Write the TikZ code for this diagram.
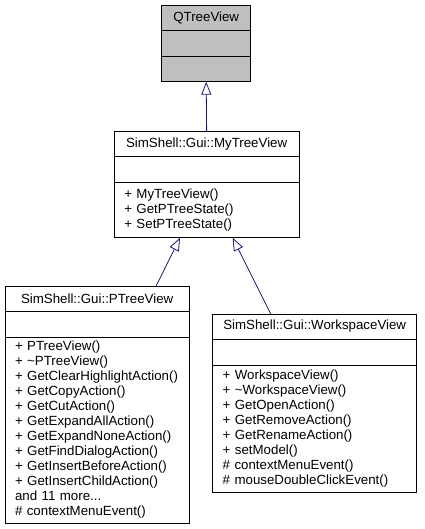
\documentclass[tikz,border=0pt]{standalone}
\usepackage{fontspec}
\setmainfont{Liberation Sans}
\usetikzlibrary{positioning,arrows.meta}
\definecolor{arrcol}{RGB}{25,25,112}
\definecolor{basecol}{RGB}{191,191,191}
\tikzset{every picture/.style={x=1pt,y=-1pt}}
\tikzset{cell/.style={draw,rectangle,inner sep=0pt,outer sep=0pt,line width=0.8pt,font=\fontsize{13.3}{15}\selectfont}}
\tikzset{classtitle/.style={cell,minimum height=25pt,anchor=north}}
\tikzset{classblank/.style={cell,minimum height=26pt}}
\tikzset{classbody/.style={cell,align=left,inner xsep=10pt}}
\tikzset{inherit/.style={arrcol,line width=0.8pt,-{Triangle[open,length=13pt,width=10pt,fill=white]}}}

\begin{document}
\begin{tikzpicture}
\useasboundingbox (0,0) rectangle (424,529);

\node [classtitle,fill=basecol,minimum width=89pt] (qtitle) at (206.2,5.7) {QTreeView};
\node [classblank,fill=basecol,minimum width=89pt,below=0pt of qtitle] (qblank) {};
\node [classblank,fill=basecol,minimum width=89pt,minimum height=25pt,below=0pt of qblank] (qbody) {};

\node [classtitle,minimum width=184.7pt] (mytitle) at (206.65,131.7) {SimShell::Gui::MyTreeView};
\node [classblank,minimum width=184.7pt,below=0pt of mytitle] (myblank) {};
\node [classbody,text width=164.7pt,minimum height=55pt,below=0pt of myblank] (mybody) {%
+ MyTreeView()\\
+ GetPTreeState()\\
+ SetPTreeState()};

\node [classtitle,minimum width=184.3pt] (ptitle) at (97.15,286) {SimShell::Gui::PTreeView};
\node [classblank,minimum width=184.3pt,below=0pt of ptitle] (pblank) {};
\node [classbody,text width=164.3pt,minimum height=186pt,below=0pt of pblank] (pbody) {%
+ PTreeView()\\
+ \textasciitilde PTreeView()\\
+ GetClearHighlightAction()\\
+ GetCopyAction()\\
+ GetCutAction()\\
+ GetExpandAllAction()\\
+ GetExpandNoneAction()\\
+ GetFindDialogAction()\\
+ GetInsertBeforeAction()\\
+ GetInsertChildAction()\\
and 11 more...\\
\# contextMenuEvent()};

\node [classtitle,minimum width=204pt] (wtitle) at (314.7,314) {SimShell::Gui::WorkspaceView};
\node [classblank,minimum width=204pt,below=0pt of wtitle] (wblank) {};
\node [classbody,text width=184pt,minimum height=127pt,below=0pt of wblank] (wbody) {%
+ WorkspaceView()\\
+ \textasciitilde WorkspaceView()\\
+ GetOpenAction()\\
+ GetRemoveAction()\\
+ GetRenameAction()\\
+ setModel()\\
\# contextMenuEvent()\\
\# mouseDoubleClickEvent()};

\draw [inherit] (mytitle.north) -- (qbody.south);
\draw [inherit] ([xshift=59pt]ptitle.north) -- ([xshift=-26.6pt]mybody.south);
\draw [inherit] ([xshift=-44pt]wtitle.north) -- ([xshift=26pt]mybody.south);
\end{tikzpicture}
\end{document}
